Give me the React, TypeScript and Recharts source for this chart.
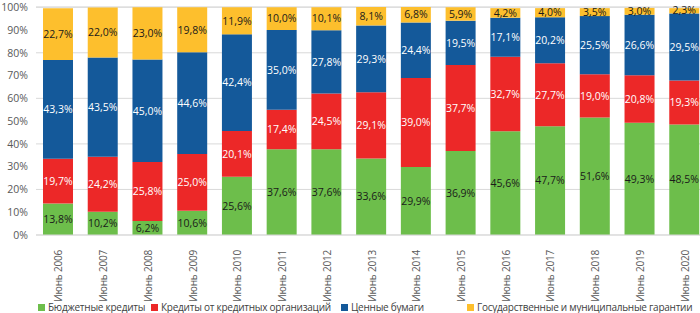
import { BarChart, Bar, XAxis, YAxis, CartesianGrid, LabelList, Legend } from "recharts";

const years = [
  "Июнь 2006", "Июнь 2007", "Июнь 2008", "Июнь 2009", "Июнь 2010",
  "Июнь 2011", "Июнь 2012", "Июнь 2013", "Июнь 2014", "Июнь 2015",
  "Июнь 2016", "Июнь 2017", "Июнь 2018", "Июнь 2019", "Июнь 2020",
];
const budgetLoans = [13.8, 10.2, 6.2, 10.6, 25.6, 37.6, 37.6, 33.6, 29.9, 36.9, 45.6, 47.7, 51.6, 49.3, 48.5];
const bankLoans = [19.7, 24.2, 25.8, 25.0, 20.1, 17.4, 24.5, 29.1, 39.0, 37.7, 32.7, 27.7, 19.0, 20.8, 19.3];
const securities = [43.3, 43.5, 45.0, 44.6, 42.4, 35.0, 27.8, 29.3, 24.4, 19.5, 17.1, 20.2, 25.5, 26.6, 29.5];
const guarantees = [22.7, 22.0, 23.0, 19.8, 11.9, 10.0, 10.1, 8.1, 6.8, 5.9, 4.2, 4.0, 3.5, 3.0, 2.3];
const yTicks = [0, 10, 20, 30, 40, 50, 60, 70, 80, 90, 100];

const SERIES = [
  { key: "budget", name: "Бюджетные кредиты", color: "#6DBE4B", text: "#1a1a1a" },
  { key: "bank", name: "Кредиты от кредитных организаций", color: "#EC2828", text: "#ffffff" },
  { key: "sec", name: "Ценные бумаги", color: "#14599A", text: "#ffffff" },
  { key: "guar", name: "Государственные и муниципальные гарантии", color: "#FDBF2D", text: "#1a1a1a" },
];
const LEGEND_X = [38, 151, 341, 467];

const data = years.map((y, i) => ({
  name: y,
  budget: budgetLoans[i],
  bank: bankLoans[i],
  sec: securities[i],
  guar: guarantees[i],
}));

const FONT = "'Open Sans', 'Noto Sans', sans-serif";
const fmt = (v: any) => Number(v).toFixed(1).replace(".", ",") + "%";

function XTick(props: any) {
  const { x, y, payload } = props;
  return (
    <text
      x={x + 4}
      y={y + 7}
      transform={`rotate(-90, ${x + 4}, ${y + 7})`}
      textAnchor="end"
      fontSize={10}
      letterSpacing={-0.2}
      fontFamily={FONT}
      fill="#595959"
    >
      {payload.value}
    </text>
  );
}

function LegendBox() {
  return (
    <div style={{ position: "relative", height: 16, width: 710, fontFamily: FONT, fontSize: 10, letterSpacing: -0.25, color: "#404040" }}>
      {SERIES.map((s, i) => (
        <div key={s.key} style={{ position: "absolute", left: LEGEND_X[i], top: 3, display: "flex", alignItems: "center", whiteSpace: "nowrap" }}>
          <span style={{ display: "inline-block", width: 7, height: 7, background: s.color, marginRight: 3 }} />
          <span>{s.name}</span>
        </div>
      ))}
    </div>
  );
}

export default function App() {
  return (
    <div style={{ position: "fixed", left: 0, top: 0, width: 700, height: 313, overflow: "hidden", background: "#fff" }}>
      <BarChart width={710} height={313} data={data} margin={{ top: 7, right: 3, left: 0, bottom: 0 }}>
        <CartesianGrid vertical={false} stroke="#d9d9d9" />
        <XAxis dataKey="name" height={62} interval={0} tickLine={false} axisLine={{ stroke: "#d9d9d9" }} tick={<XTick />} />
        <YAxis
          width={36}
          domain={[0, 100]}
          ticks={yTicks}
          tickFormatter={(v) => `${v}%`}
          axisLine={false}
          tickLine={false}
          tickSize={0}
          tickMargin={8}
          tick={{ fontSize: 10.5, fill: "#595959", fontFamily: FONT }}
        />
        <Legend verticalAlign="bottom" height={16} content={() => <LegendBox />} />
        {SERIES.map((s) => (
          <Bar key={s.key} dataKey={s.key} name={s.name} stackId="a" fill={s.color} barSize={30} isAnimationActive={false}>
            <LabelList dataKey={s.key} position="center" formatter={fmt} fill={s.text} fontSize={10.5} fontFamily={FONT} />
          </Bar>
        ))}
      </BarChart>
    </div>
  );
}
